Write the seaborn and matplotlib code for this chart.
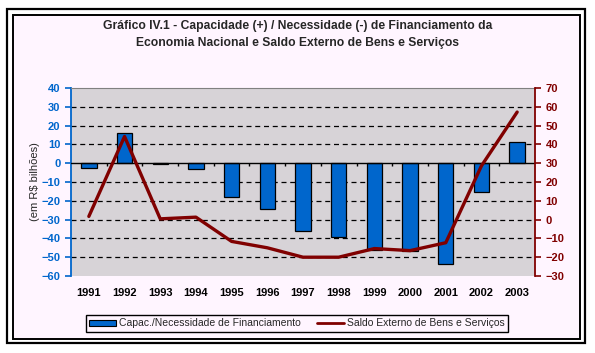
import numpy as np
import matplotlib
matplotlib.use('Agg')
import matplotlib.pyplot as plt
from matplotlib.patches import Rectangle, Patch
from matplotlib.lines import Line2D
import matplotlib.font_manager as fm
import seaborn as sns

# data
anos = ['1991', '1992', '1993', '1994', '1995', '1996', '1997',
        '1998', '1999', '2000', '2001', '2002', '2003']
capacidade = [-2.3, 15.9, -0.5, -3.2, -18.0, -24.4, -36.3,
              -39.5, -46.0, -46.5, -53.6, -15.3, 11.5]
saldo_externo = [1.7, 44.2, 0.4, 1.3, -11.6, -15.0, -20.0,
                 -20.0, -15.4, -16.5, -12.3, 28.6, 57.2]

sns.set_style('white')
plt.rcParams['font.family'] = ['Liberation Sans', 'DejaVu Sans']

names = {f.name for f in fm.fontManager.ttflist}
title_font = ['Liberation Sans Narrow', 'Liberation Sans', 'DejaVu Sans'] if 'Liberation Sans Narrow' in names else ['Liberation Sans', 'DejaVu Sans']

blue = '#0066CC'
dred = '#800000'

fig = plt.figure(figsize=(5.95, 3.53), dpi=100)
W, H = 595, 353

# outer and inner frames
fig.patches.append(Rectangle((7 / W, 1 - 343 / H), 578 / W, 334 / H, transform=fig.transFigure,
                             facecolor='white', edgecolor='black', lw=1.6, zorder=-2))
fig.patches.append(Rectangle((13 / W, 1 - 339 / H), 567 / W, 324 / H, transform=fig.transFigure,
                             facecolor='#FFF5FF', edgecolor='black', lw=1.4, zorder=-1))

ax = fig.add_axes([71 / W, 1 - 276 / H, 464 / W, 188 / H])
ax.set_facecolor('#D7D3D7')

sns.barplot(x=anos, y=capacidade, color=blue, edgecolor='black', linewidth=0.9,
            width=0.43, saturation=1, ax=ax, zorder=3)

ax.set_ylim(-60, 40)
ax.set_xlim(-0.5, len(anos) - 0.5)
ax.set_yticks(np.arange(-60, 41, 10))
for v in np.arange(-50, 40, 10):
    if v != 0:
        ax.axhline(v, color='black', lw=0.9, ls=(0, (4, 3)), zorder=1)
ax.axhline(0, color='black', lw=1.0, zorder=4)
ax.vlines(np.arange(len(anos) - 1) + 0.5, -1.6, 0, color='black', lw=1.0, zorder=4)

ax.tick_params(axis='y', colors=blue, labelcolor=blue, length=4, width=1.2, direction='out', labelsize=8)
for t in ax.get_yticklabels():
    t.set_fontweight('bold')
ax.tick_params(axis='x', length=0, pad=9, labelsize=8, labelcolor='black')
for t in ax.get_xticklabels():
    t.set_fontweight('bold')
ax.set_xlabel('')
ax.set_ylabel(r'(em R\$ bilhões)', fontsize=8, labelpad=1)

ax.spines['left'].set_color(blue)
ax.spines['left'].set_linewidth(1.3)
ax.spines['top'].set_color('#808080')
ax.spines['bottom'].set_visible(False)
ax.spines['right'].set_visible(False)

ax2 = ax.twinx()
sns.lineplot(x=anos, y=saldo_externo, color=dred, lw=2.4, ax=ax2, zorder=5)
ax2.set_ylim(-30, 70)
ax2.set_yticks(np.arange(-30, 71, 10))
ax2.tick_params(axis='y', colors=dred, labelcolor=dred, length=4, width=1.2, direction='out', labelsize=8)
for t in ax2.get_yticklabels():
    t.set_fontweight('bold')
ax2.set_ylabel('')
for s in ['left', 'top', 'bottom']:
    ax2.spines[s].set_visible(False)
ax2.spines['right'].set_color(dred)
ax2.spines['right'].set_linewidth(1.3)

fig.text(0.5, 1 - 26 / H, 'Gráfico IV.1 - Capacidade (+) / Necessidade (-) de Financiamento da',
         ha='center', va='center', fontsize=8.7, fontweight='bold', family=title_font)
fig.text(0.5, 1 - 43 / H, 'Economia Nacional e Saldo Externo de Bens e Serviços',
         ha='center', va='center', fontsize=8.7, fontweight='bold', family=title_font)

handles = [Patch(facecolor=blue, edgecolor='black', lw=0.8),
           Line2D([], [], color=dred, lw=2)]
leg = fig.legend(handles, ['Capac./Necessidade de Financiamento', 'Saldo Externo de Bens e Serviços'],
                 loc='center', bbox_to_anchor=(297 / W, 1 - 323.5 / H), ncol=2, fontsize=7.5,
                 frameon=True, fancybox=False, edgecolor='black', facecolor='#FFF5FF', framealpha=1,
                 handlelength=2.6, handleheight=0.5, handletextpad=0.3, columnspacing=1.5,
                 borderpad=0.35, borderaxespad=0)
leg.get_frame().set_linewidth(1.0)

fig.savefig('out.png', dpi=100)
